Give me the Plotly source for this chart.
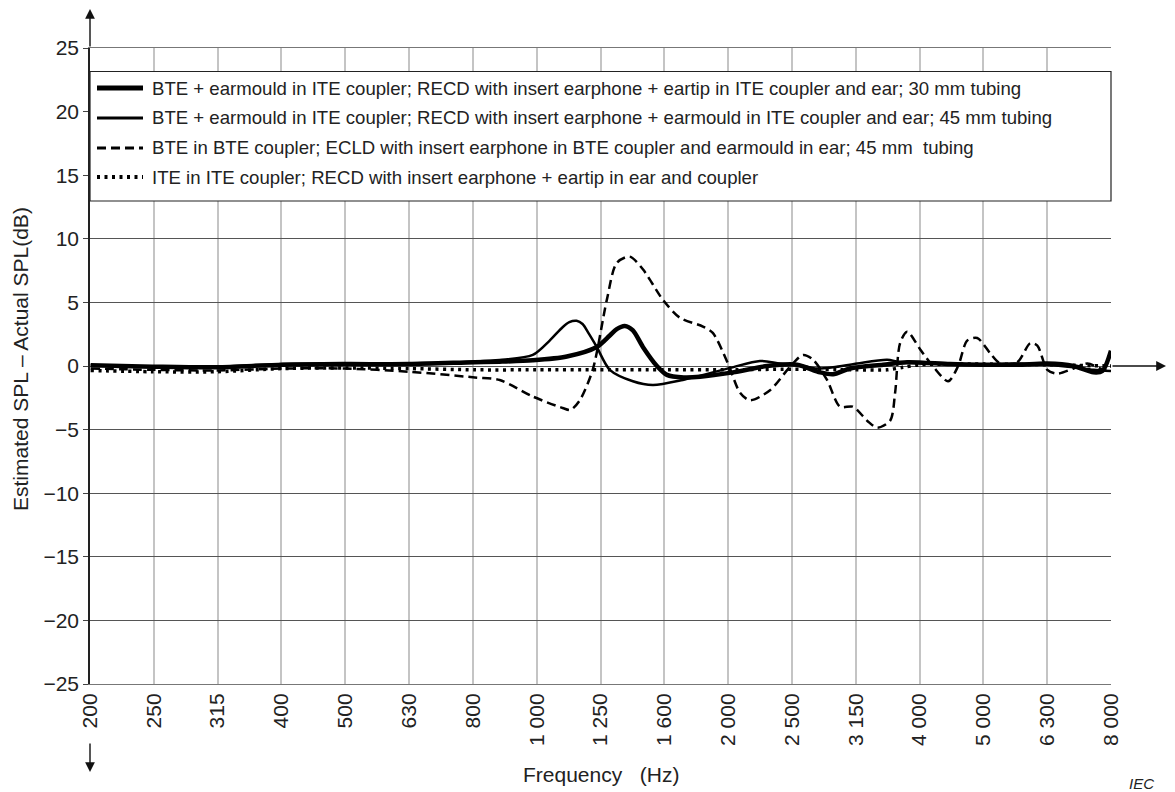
import plotly.graph_objects as go

# ---------------- data ----------------
band_labels = ["200", "250", "315", "400", "500", "630", "800", "1 000", "1 250",
               "1 600", "2 000", "2 500", "3 150", "4 000", "5 000", "6 300", "8 000"]
band_exponents = list(range(23, 40))          # nominal third-octave bands 10^(n/10)
y_ticks = [25, 20, 15, 10, 5, 0, -5, -10, -15, -20, -25]
y_ticktext = ["25", "20", "15", "10", "5", "0", "\u22125", "\u221210", "\u221215", "\u221220", "\u221225"]

series_names = [
    "BTE + earmould in ITE coupler; RECD with insert earphone + eartip in ITE coupler and ear; 30 mm tubing",
    "BTE + earmould in ITE coupler; RECD with insert earphone + earmould in ITE coupler and ear; 45 mm tubing",
    "BTE in BTE coupler; ECLD with insert earphone in BTE coupler and earmould in ear; 45 mm\u00a0 tubing",
    "ITE in ITE coupler; RECD with insert earphone + eartip in ear and coupler",
]

freq_30mm = [200, 250, 315, 400, 500, 630, 800, 875, 986, 1115, 1242, 1302, 1335, 1374,
             1415, 1467, 1543, 1600, 1700, 1803, 2030, 2296, 2558, 2780, 2914, 3098,
             3491, 3807, 4446, 5000, 5665, 6313, 6936, 7455, 7700, 7943]
val_30mm = [0.05, -0.05, -0.1, 0.1, 0.15, 0.15, 0.3, 0.34, 0.45, 0.75, 1.5, 2.4, 2.9, 3.15,
            2.8, 1.5, 0.0, -0.7, -0.9, -0.85, -0.5, 0.0, 0.1, -0.5, -0.65, -0.2,
            0.1, 0.3, 0.15, 0.1, 0.1, 0.2, 0.0, -0.5, -0.4, 1.2]

freq_45mm = [200, 250, 315, 400, 500, 630, 800, 875, 986, 1048, 1098, 1125, 1155, 1180, 1205,
             1242, 1302, 1415, 1521, 1694, 2009, 2238, 2406, 2558, 2750, 2914, 3178, 3541,
             3711, 4446, 5000, 5665, 6313, 6936, 7455, 7943]
val_45mm = [0.05, -0.05, -0.05, 0.15, 0.2, 0.2, 0.35, 0.47, 0.87, 2.0, 3.05, 3.45, 3.55, 3.3, 2.6,
            1.5, -0.3, -1.2, -1.5, -1.1, -0.15, 0.4, 0.2, 0.1, -0.2, -0.1, 0.2, 0.5,
            0.3, 0.2, 0.1, 0.2, 0.1, -0.1, -0.3, -0.4]

freq_ecld = [200, 250, 315, 400, 500, 630, 800, 875, 986, 1098, 1130, 1168, 1224, 1288,
             1335, 1399, 1467, 1577, 1676, 1822, 1888, 1994, 2083, 2159, 2321, 2495,
             2615, 2711, 2851, 2988, 3132, 3295, 3416, 3580, 3645, 3711, 3807, 3991,
             4182, 4414, 4576, 4728, 4902, 5137, 5327, 5665, 5937, 6089, 6313, 6545,
             6936, 7295, 7640, 7943]
val_ecld = [-0.2, -0.3, -0.35, -0.2, -0.2, -0.45, -0.9, -1.1, -2.4, -3.3, -3.45, -2.7, -0.3, 5.2,
            8.1, 8.6, 7.6, 5.2, 3.8, 3.1, 2.6, 0.2, -2.1, -2.7, -1.9, -0.05,
            0.87, 0.5, -1.1, -3.2, -3.2, -4.3, -4.85, -4.3, -2.1, 1.8, 2.7, 1.3,
            -0.05, -1.2, 0.0, 2.0, 2.2, 1.0, 0.2, 0.3, 1.8, 1.6, -0.3, -0.6,
            -0.2, 0.2, -0.2, -0.5]

freq_ite = [200, 250, 315, 400, 500, 630, 800, 1000, 1250, 1600, 2000, 2500, 3150, 3541,
            3750, 4000, 5000, 6300, 7000, 7943]
val_ite = [-0.35, -0.45, -0.45, -0.2, -0.15, -0.2, -0.3, -0.3, -0.3, -0.3, -0.3, -0.25, -0.3, -0.3,
           -0.1, 0.1, 0.15, 0.1, 0.05, 0.0]

# ---------------- styling ----------------
FONT = "Liberation Sans, Arial, sans-serif"
OFF = 8                      # page body margin of the html page
W, H = 1175 - OFF, 792 - OFF
L, R, T, B = 90 - OFF, 64, 48 - OFF, 108
PW, PH = W - L - R, H - T - B


def px(xp):
    """absolute window pixel x -> paper fraction"""
    return (xp - OFF - L) / PW


def py(yp):
    """absolute window pixel y -> paper fraction"""
    return (H - B - (yp - OFF)) / PH


styles = [
    dict(width=4.5, dash="solid"),
    dict(width=2.5, dash="solid"),
    dict(width=2.5, dash="9px,5px"),
    dict(width=3.5, dash="3px,4.5px"),
]
data = [(freq_30mm, val_30mm), (freq_45mm, val_45mm), (freq_ecld, val_ecld), (freq_ite, val_ite)]

fig = go.Figure()
for (f, v), name, st in zip(data, series_names, styles):
    fig.add_trace(go.Scatter(
        x=f, y=v, mode="lines", name=name, showlegend=False,
        line=dict(color="black", width=st["width"], dash=st["dash"], shape="spline", smoothing=0.8),
    ))

tickvals = [10 ** (n / 10) for n in band_exponents]

fig.update_layout(
    width=W, height=H,
    margin=dict(l=L, r=R, t=T, b=B),
    paper_bgcolor="white", plot_bgcolor="white",
    font=dict(family=FONT, color="#222"),
    xaxis=dict(type="log", range=[2.3, 3.9], tickvals=tickvals, ticktext=band_labels,
               tickangle=-90, tickfont=dict(size=21, family=FONT, color="#222"),
               showgrid=True, gridcolor="#c4c4c4", gridwidth=1.5,
               showline=True, mirror=True, linecolor="#777", linewidth=1,
               ticks="", zeroline=False),
    yaxis=dict(range=[-25, 25], tickvals=y_ticks, ticktext=y_ticktext,
               tickfont=dict(size=21, family=FONT, color="#222"),
               showgrid=True, gridcolor="#555", gridwidth=1,
               zeroline=True, zerolinecolor="#555", zerolinewidth=1,
               showline=True, linecolor="#222", linewidth=1.5,
               ticks="outside", ticklen=5, tickcolor="#444"),
)

shapes = []
# legend box
shapes.append(dict(type="rect", xref="paper", yref="paper",
                   x0=0, x1=1, y0=py(201), y1=py(71.5),
                   fillcolor="white", line=dict(color="#222", width=1.2), layer="above"))
row_y = [88, 118, 148, 177]
for ry, st in zip(row_y, styles):
    shapes.append(dict(type="line", xref="paper", yref="paper",
                       x0=px(97), x1=px(143), y0=py(ry), y1=py(ry),
                       line=dict(color="black", width=st["width"] + 0.5, dash=st["dash"]),
                       layer="above"))
fig.update_layout(shapes=shapes)

annotations = []
for ry, name in zip(row_y, series_names):
    annotations.append(dict(xref="paper", yref="paper", x=px(150), y=py(ry),
                            xanchor="left", yanchor="middle", showarrow=False,
                            text=name, font=dict(size=18.6, family=FONT, color="#222")))
# axis titles
annotations.append(dict(xref="paper", yref="paper", x=px(21), y=py(359),
                        xanchor="center", yanchor="middle", showarrow=False, textangle=-90,
                        text="Estimated SPL \u2013 Actual SPL(dB)",
                        font=dict(size=21, family=FONT, color="#222")))
annotations.append(dict(xref="paper", yref="paper", x=0.5, y=py(774),
                        xanchor="center", yanchor="middle", showarrow=False,
                        text="Frequency\u00a0\u00a0\u00a0(Hz)",
                        font=dict(size=21, family=FONT, color="#222")))
annotations.append(dict(xref="paper", yref="paper", x=px(1141), y=py(783),
                        xanchor="center", yanchor="middle", showarrow=False,
                        text="<i>IEC</i>", font=dict(size=15, family=FONT, color="#222")))
# arrows
arrow_style = dict(showarrow=True, arrowhead=2, arrowsize=1.4, arrowwidth=1.4,
                   arrowcolor="#111", text="")
annotations.append(dict(xref="paper", yref="paper", x=0, y=py(8), ax=0, ay=40, **arrow_style))
annotations.append(dict(xref="paper", yref="paper", x=0, y=py(772), ax=0, ay=-30, **arrow_style))
annotations.append(dict(xref="paper", yref="y", x=px(1166), y=0, ax=-55, ay=0, **arrow_style))
fig.update_layout(annotations=annotations)

fig.write_html("out.html")
